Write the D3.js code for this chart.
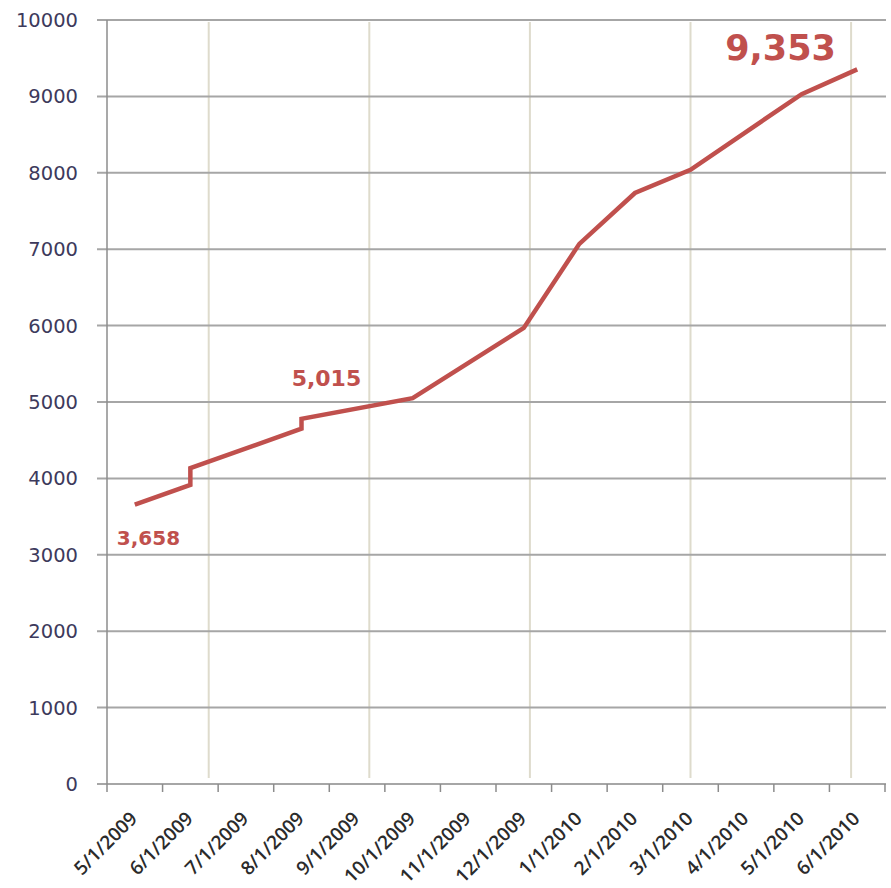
<!DOCTYPE html>
<html>
<head>
<meta charset="utf-8">
<script src="https://cdn.jsdelivr.net/npm/d3@7/dist/d3.min.js"></script>
<style>
  html, body { margin: 0; padding: 0; background: #ffffff; }
  svg { display: block; }
</style>
</head>
<body>
<svg id="chart" width="891" height="888"></svg>
<script>
// ---- data ----
const categories = ["5/1/2009","6/1/2009","7/1/2009","8/1/2009","9/1/2009","10/1/2009",
  "11/1/2009","12/1/2009","1/1/2010","2/1/2010","3/1/2010","4/1/2010","5/1/2010","6/1/2010"];
// line vertices: category of each point and its value (two points in one month make a step)
const pointCategories = ["5/1/2009","6/1/2009","6/1/2009","8/1/2009","8/1/2009","10/1/2009",
  "12/1/2009","1/1/2010","2/1/2010","3/1/2010","5/1/2010","6/1/2010"];
const pointValues = [3658, 3915, 4135, 4650, 4780, 5050, 5970, 7070, 7735, 8040, 9030, 9353];
const yTicks = [0,1000,2000,3000,4000,5000,6000,7000,8000,9000,10000];
// secondary (day-based) axis whose gridlines are the pale vertical lines
const dayDomain = [0, 436];
const dayGridTicks = [57, 147, 237, 327, 417];
// callouts
const callouts = [
  {text: "3,658", category: "5/1/2009", value: 3658},
  {text: "5,015", category: "10/1/2009", value: 5015},
  {text: "9,353", category: "6/1/2010", value: 9353}
];

// ---- layout ----
const mLeft = 107, mRight = 885, mTop = 20, mBottom = 784;
const svg = d3.select("#chart");

const x = d3.scaleBand().domain(categories).range([mLeft, mRight]).paddingInner(0).paddingOuter(0);
const y = d3.scaleLinear().domain([0, 10000]).range([mBottom, mTop]);
const xDay = d3.scaleLinear().domain(dayDomain).range([mLeft, mRight]);
const cx = c => x(c) + x.bandwidth() / 2;

// pale vertical gridlines
svg.append("g").selectAll("line").data(dayGridTicks).join("line")
  .attr("x1", d => xDay(d)).attr("x2", d => xDay(d))
  .attr("y1", mTop + 2).attr("y2", mBottom - 6)
  .attr("stroke", "#dedbcc").attr("stroke-width", 2);

// horizontal gridlines (with left tick stubs)
svg.append("g").selectAll("line").data(yTicks).join("line")
  .attr("x1", mLeft - 10).attr("x2", mRight + 1)
  .attr("y1", d => y(d)).attr("y2", d => y(d))
  .attr("stroke", "#a6a6a6").attr("stroke-width", 2);

// y axis line
svg.append("line").attr("x1", mLeft).attr("x2", mLeft).attr("y1", mTop).attr("y2", mBottom)
  .attr("stroke", "#8c8c8c").attr("stroke-width", 1.5);

// y labels
svg.append("g").selectAll("text").data(yTicks).join("text")
  .attr("x", mLeft - 29).attr("y", d => y(d))
  .attr("dy", "0.36em")
  .attr("text-anchor", "end")
  .attr("font-family", "DejaVu Sans, Verdana, sans-serif")
  .attr("font-size", 19.5)
  .attr("fill", "#3d3a5c")
  .text(d => d);

// x axis ticks at band boundaries
const boundaries = categories.map(c => x(c)).concat([mRight]);
svg.append("g").selectAll("line").data(boundaries).join("line")
  .attr("x1", d => d).attr("x2", d => d)
  .attr("y1", mBottom).attr("y2", mBottom + 8)
  .attr("stroke", "#8c8c8c").attr("stroke-width", 1.5);

// x labels
svg.append("g").selectAll("text").data(categories).join("text")
  .attr("transform", d => `translate(${cx(d) - 1},${mBottom + 31}) rotate(-45)`)
  .attr("text-anchor", "end")
  .attr("dy", "0.35em")
  .attr("font-family", "Open Sans, Lato, sans-serif")
  .attr("font-size", 19)
  .attr("font-weight", 600)
  .attr("fill", "#2b2b2b")
  .text(d => d);

// line
const pts = pointCategories.map((c, i) => [cx(c), y(pointValues[i])]);
svg.append("path")
  .attr("d", d3.line()(pts))
  .attr("fill", "none")
  .attr("stroke", "#c0504d")
  .attr("stroke-width", 4.5)
  .attr("stroke-linejoin", "miter");

// callouts
const calloutStyle = [
  {dx: -18, dy: 40, size: 20},
  {dx: -121, dy: -15, size: 22},
  {dx: -132, dy: -9, size: 35}
];
svg.append("g").selectAll("text").data(callouts).join("text")
  .attr("x", (d, i) => cx(d.category) + calloutStyle[i].dx)
  .attr("y", (d, i) => y(d.value) + calloutStyle[i].dy)
  .attr("font-family", "DejaVu Sans, Verdana, sans-serif")
  .attr("font-weight", "bold")
  .attr("font-size", (d, i) => calloutStyle[i].size)
  .attr("fill", "#c0504d")
  .text(d => d.text);
</script>
</body>
</html>
